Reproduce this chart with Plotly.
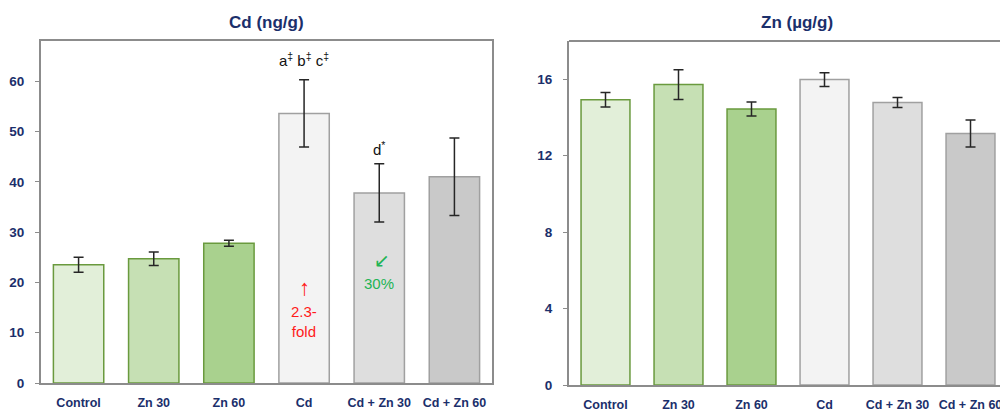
import plotly.graph_objects as go

# Treatment groups
categories = ["Control", "Zn 30", "Zn 60", "Cd", "Cd + Zn 30", "Cd + Zn 60"]

# Cd content (ng/g): mean and error
cd_values = [23.5, 24.7, 27.8, 53.6, 37.8, 41.0]
cd_errors = [1.5, 1.35, 0.6, 6.7, 5.8, 7.7]

# Zn content (µg/g): mean and error
zn_values = [14.93, 15.72, 14.44, 15.98, 14.78, 13.16]
zn_errors = [0.38, 0.78, 0.37, 0.36, 0.26, 0.70]

cd_ticks = [0, 10, 20, 30, 40, 50, 60]
zn_ticks = [0, 4, 8, 12, 16]

fill_colors = ["#e2efd9", "#c6e0b4", "#a9d18e", "#f3f3f3", "#dedede", "#c9c9c9"]
edge_colors = ["#6a9a3e", "#6a9a3e", "#6a9a3e", "#a0a0a0", "#a0a0a0", "#a0a0a0"]

NAVY = "#1b2f6b"
AXIS = "#8c8c8c"
W, H = 1000, 412


def bar_trace(values, errors, xa, ya):
    return go.Bar(
        x=categories, y=values, xaxis=xa, yaxis=ya,
        marker=dict(color=fill_colors, line=dict(color=edge_colors, width=1.5)),
        error_y=dict(type="data", array=errors, visible=True,
                     color="#262626", thickness=1.5, width=5),
        showlegend=False,
    )


fig = go.Figure()
fig.add_trace(bar_trace(cd_values, cd_errors, "x", "y"))
fig.add_trace(bar_trace(zn_values, zn_errors, "x2", "y2"))

xcommon = dict(
    showline=True, linecolor=AXIS, linewidth=2, ticks="", showgrid=False,
    automargin=False,
    tickfont=dict(family="Liberation Sans", size=12.5, color=NAVY, weight="bold"),
    ticklabelstandoff=7,
)
ycommon = dict(
    showline=True, linecolor=AXIS, linewidth=2, ticks="outside", ticklen=4,
    tickcolor=AXIS, tickwidth=1, showgrid=False, zeroline=False, automargin=False,
    tickfont=dict(family="Liberation Sans", size=13.5, color=NAVY, weight="bold"),
    ticklabelstandoff=8,
)

fig.update_layout(
    width=W, height=H, autosize=False,
    margin=dict(l=0, r=0, t=0, b=0, pad=0),
    paper_bgcolor="white", plot_bgcolor="white",
    bargap=0.33,
    xaxis=dict(domain=[41 / W, 492 / W], mirror=True, anchor="y", **xcommon),
    yaxis=dict(domain=[1 - 383 / H, 1 - 41 / H], range=[0, 68], mirror=True,
               tickvals=cd_ticks, anchor="x", **ycommon),
    xaxis2=dict(domain=[569 / W, 1.0], range=[-0.5, 5.404], anchor="y2", **xcommon),
    yaxis2=dict(domain=[1 - 385 / H, 1 - 41 / H], range=[0, 18],
                tickvals=zn_ticks, anchor="x2", **ycommon),
)

# Top frame edge of the Zn panel
fig.add_shape(type="line", xref="x2 domain", yref="y2 domain",
              x0=0, x1=1, y0=1, y1=1, line=dict(color=AXIS, width=2))

title_font = dict(family="Liberation Sans", size=17, color=NAVY, weight="bold")
fig.add_annotation(text="Cd (ng/g)", xref="x domain", yref="paper",
                   x=0.5, y=1 - 23 / H, xanchor="center", yanchor="middle",
                   showarrow=False, font=title_font)
fig.add_annotation(text="Zn (µg/g)", xref="paper", yref="paper",
                   x=797 / W, y=1 - 23 / H, xanchor="center", yanchor="middle",
                   showarrow=False, font=title_font)

note_font = dict(family="Liberation Sans", size=15, color="#111111")
fig.add_annotation(text="a<sup>‡</sup> b<sup>‡</sup> c<sup>‡</sup>", x="Cd",
                   y=cd_values[3] + cd_errors[3], xref="x", yref="y", yshift=20,
                   xanchor="center", yanchor="middle", showarrow=False, font=note_font)
fig.add_annotation(text="d<sup>*</sup>", x="Cd + Zn 30", y=cd_values[4] + cd_errors[4],
                   xref="x", yref="y", yshift=15, xanchor="center", yanchor="middle",
                   showarrow=False, font=note_font)

red = dict(family="Liberation Sans", size=15, color="#ff1a1a")
fig.add_annotation(text="↑", x="Cd", y=18.9, xref="x", yref="y", showarrow=False,
                   xanchor="center", yanchor="middle", font=dict(red, size=22))
fig.add_annotation(text="2.3-<br>fold", x="Cd", y=12.2, xref="x", yref="y",
                   xanchor="center", yanchor="middle", showarrow=False, font=red)

green = dict(family="Liberation Sans", size=15, color="#22b455")
fig.add_annotation(text="↙", x="Cd + Zn 30", y=24.5, xref="x", yref="y",
                   xshift=3, xanchor="center", yanchor="middle", showarrow=False,
                   font=dict(green, family="DejaVu Sans", size=19))
fig.add_annotation(text="30%", x="Cd + Zn 30", y=19.8, xref="x", yref="y",
                   xanchor="center", yanchor="middle", showarrow=False, font=green)

fig.write_html("out.html")
